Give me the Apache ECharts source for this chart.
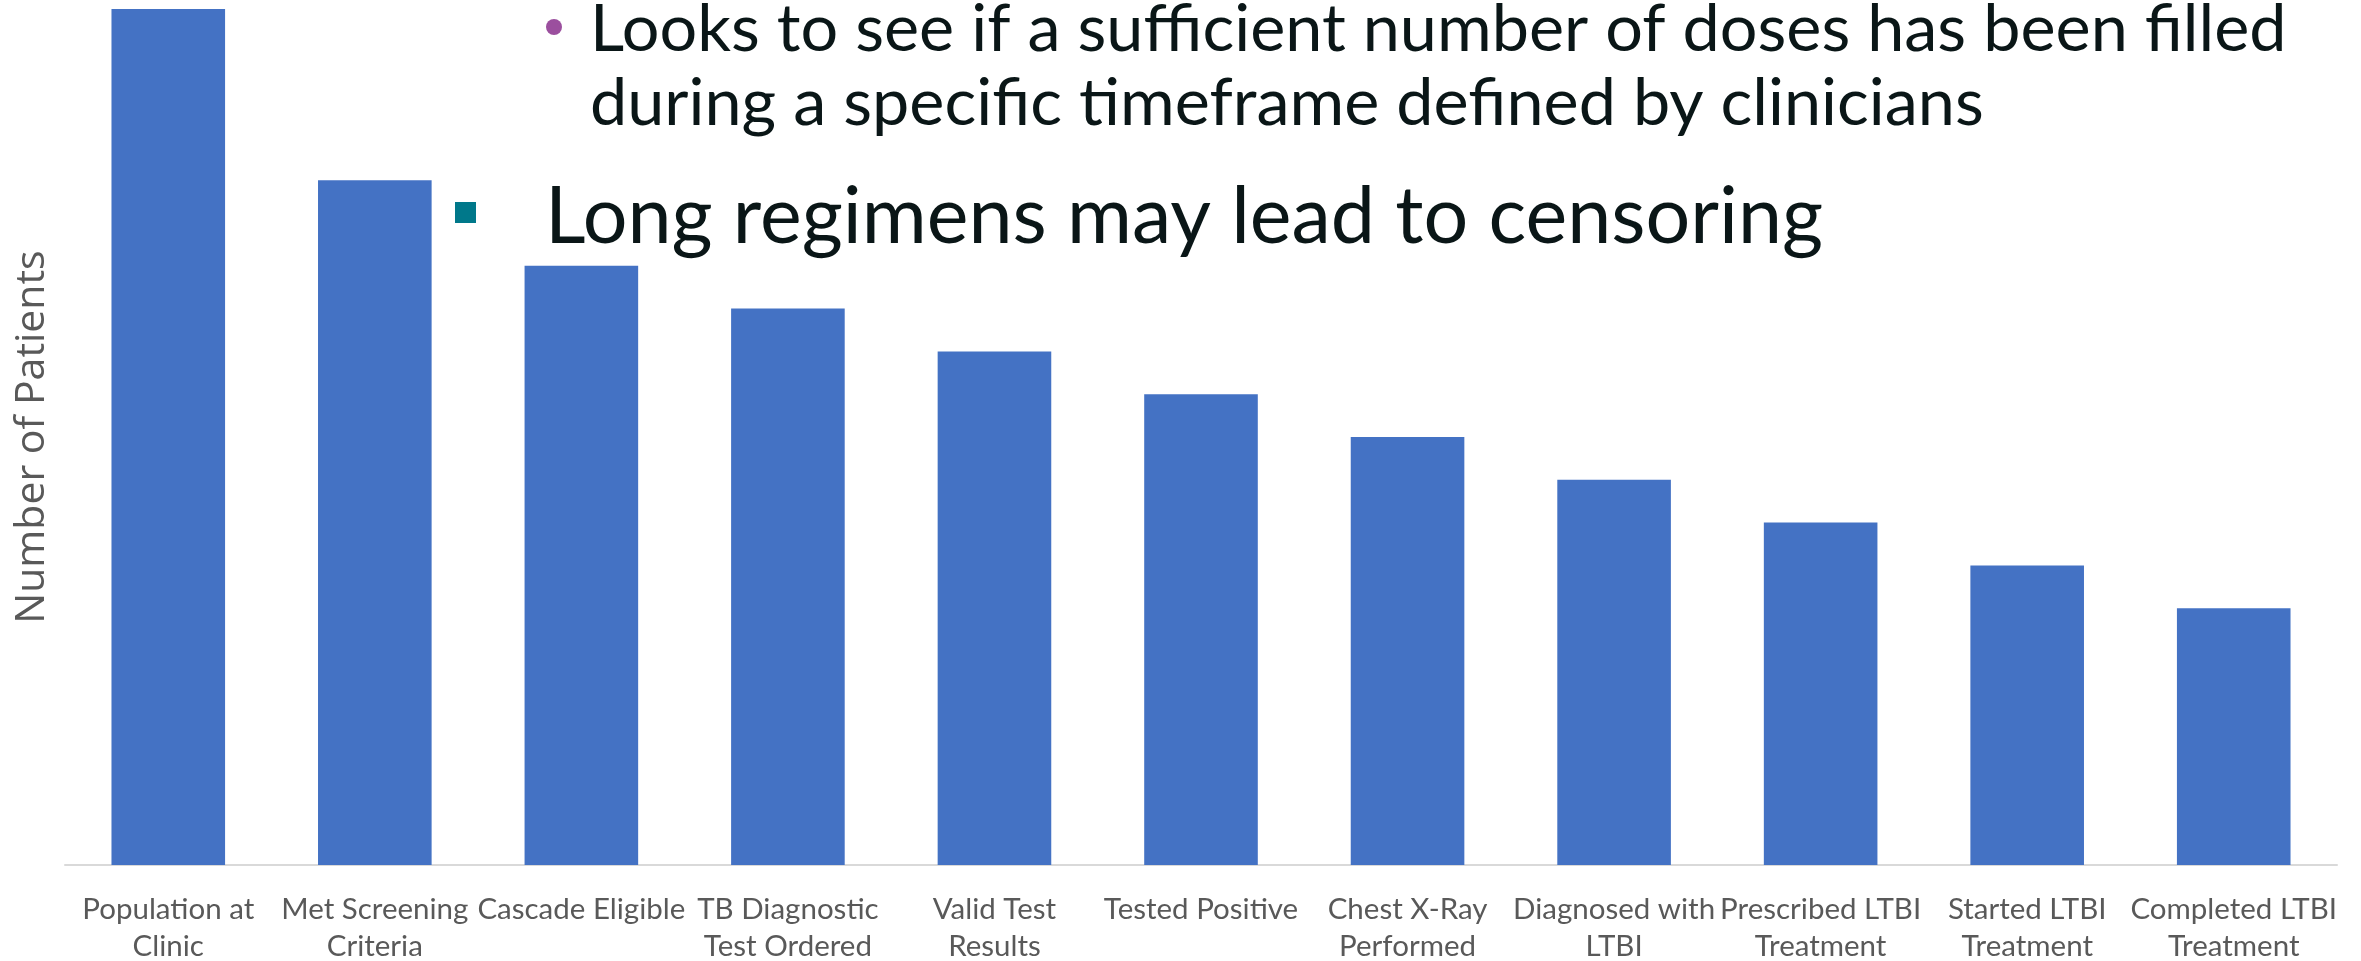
<!DOCTYPE html>
<html>
<head>
<meta charset="utf-8">
<script src="https://cdn.jsdelivr.net/npm/echarts@6/dist/echarts.min.js"></script>
<style>
  html, body { margin: 0; padding: 0; background: #ffffff; }
  #chart { width: 2361px; height: 961px; }
</style>
</head>
<body>
<div id="chart"></div>
<script>
// Steps of the LTBI care cascade
const categories = [
  'Population at\nClinic',
  'Met Screening\nCriteria',
  'Cascade Eligible',
  'TB Diagnostic\nTest Ordered',
  'Valid Test\nResults',
  'Tested Positive',
  'Chest X-Ray\nPerformed',
  'Diagnosed with\nLTBI',
  'Prescribed LTBI\nTreatment',
  'Started LTBI\nTreatment',
  'Completed LTBI\nTreatment'
];

// Patients remaining at each step (relative units)
const patients = [100, 80, 70, 65, 60, 55, 50, 45, 40, 35, 30];

const yAxisTitle = 'Number of Patients';
const noteLines = [
  'Looks to see if a sufficient number of doses has been filled',
  'during a specific timeframe defined by clinicians'
];
const headline = 'Long regimens may lead to censoring';

const bodyFont = 'Lato, "Open Sans", sans-serif';

const chart = echarts.init(document.getElementById('chart'), null, { renderer: 'canvas' });

chart.setOption({
  animation: false,
  backgroundColor: '#ffffff',
  grid: { left: 65, right: 24, top: 9, bottom: 96, containLabel: false, outerBoundsMode: 'none' },
  xAxis: {
    type: 'category',
    data: categories,
    axisLine: { show: true, lineStyle: { color: '#d9d9d9', width: 2 } },
    axisTick: { show: false },
    axisLabel: {
      interval: 0,
      color: '#595959',
      fontFamily: bodyFont,
      fontSize: 29.5,
      lineHeight: 37,
      margin: 26
    }
  },
  yAxis: {
    type: 'value',
    min: 0,
    max: 100,
    name: yAxisTitle,
    nameLocation: 'middle',
    nameGap: 12,
    nameTextStyle: { color: '#595959', fontFamily: '"Open Sans", sans-serif', fontSize: 41 },
    axisLine: { show: false },
    axisTick: { show: false },
    axisLabel: { show: false },
    splitLine: { show: false }
  },
  series: [{
    type: 'bar',
    data: patients,
    barWidth: '55%',
    itemStyle: { color: '#4472C4' }
  }],
  graphic: [
    {
      type: 'circle',
      shape: { cx: 554, cy: 27, r: 8 },
      style: { fill: '#9b4f9e' }
    },
    {
      type: 'text',
      x: 590, y: 30,
      style: {
        text: noteLines[0],
        font: '66.5px ' + bodyFont,
        fill: '#0a1617',
        verticalAlign: 'middle'
      }
    },
    {
      type: 'text',
      x: 590, y: 104,
      style: {
        text: noteLines[1],
        font: '66.5px ' + bodyFont,
        fill: '#0a1617',
        verticalAlign: 'middle'
      }
    },
    {
      type: 'rect',
      shape: { x: 455, y: 202, width: 21, height: 21 },
      style: { fill: '#00788a' }
    },
    {
      type: 'text',
      x: 545, y: 218,
      style: {
        text: headline,
        font: '79px ' + bodyFont,
        fill: '#0a1617',
        verticalAlign: 'middle'
      }
    }
  ]
});
</script>
</body>
</html>
